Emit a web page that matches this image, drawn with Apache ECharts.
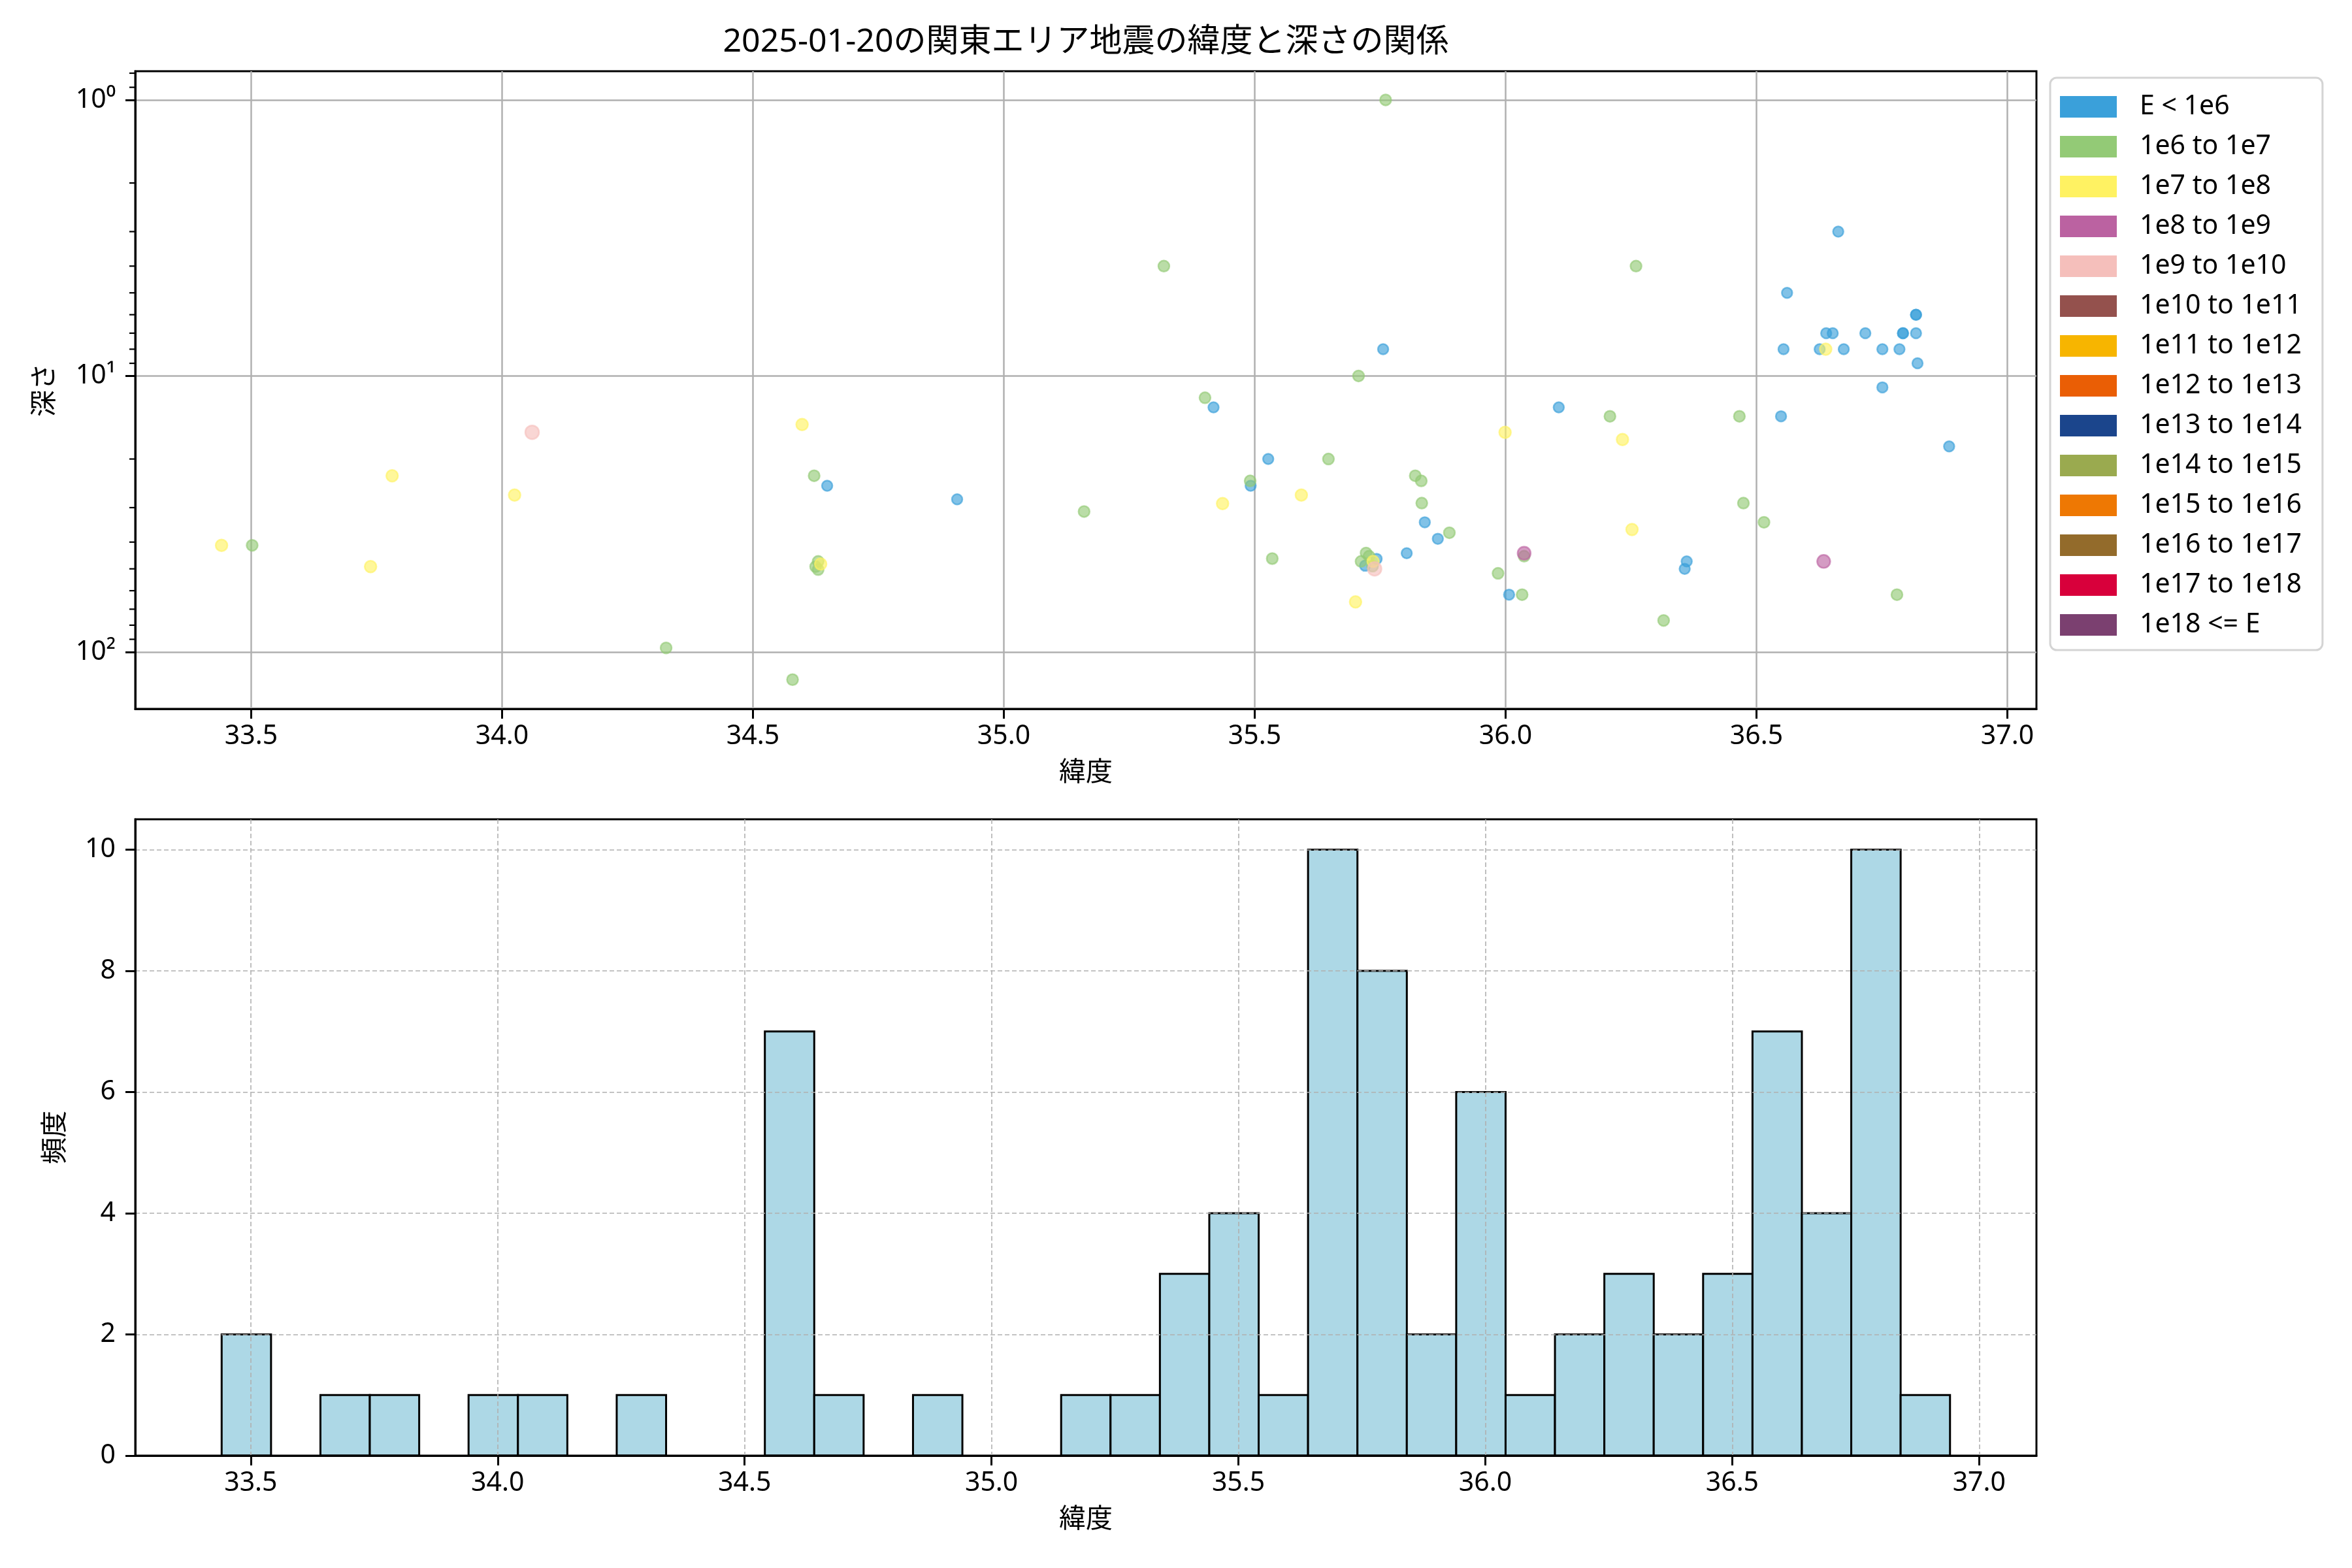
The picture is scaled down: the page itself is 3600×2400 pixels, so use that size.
<!DOCTYPE html>
<html><head><meta charset="utf-8">
<script src="https://cdn.jsdelivr.net/npm/echarts@6/dist/echarts.min.js"></script>
<style>html,body{margin:0;padding:0;background:#fff}#c{width:3600px;height:2400px}</style>
</head><body><div id="c"></div>
<script>
const TITLE = '2025-01-20の関東エリア地震の緯度と深さの関係';
const X_LABEL = '緯度';
const Y_LABEL_TOP = '深さ';
const Y_LABEL_BOTTOM = '頻度';

const energyClasses = ['E < 1e6','1e6 to 1e7','1e7 to 1e8','1e8 to 1e9','1e9 to 1e10','1e10 to 1e11','1e11 to 1e12','1e12 to 1e13','1e13 to 1e14','1e14 to 1e15','1e15 to 1e16','1e16 to 1e17','1e17 to 1e18','1e18 <= E'];
const classColors = ['#3AA0DA','#93CA76','#FFF262','#BB62A1','#F5BFBB','#94514D','#F7B500','#EA5E05','#1B458C','#9AAA4F','#EE7803','#936B2B','#D8003B','#7B4070'];

// [latitude, depth] per energy class
const quakesBelow1e6 = [
  [34.648,25.0],[34.907,28.0],[35.418,13.0],[35.492,25.0],[35.527,20.0],[35.720,48.7],
  [35.743,46.0],[35.756,8.0],[35.803,43.9],[35.839,33.9],[35.865,38.9],[36.007,62.0],
  [36.106,13.0],[36.361,47.0],[36.357,50.0],[36.549,14.0],[36.554,8.0],[36.561,5.0],
  [36.663,3.0],[36.626,8.0],[36.639,7.0],[36.652,7.0],[36.674,8.0],[36.717,7.0],
  [36.751,8.0],[36.751,11.0],[36.785,8.0],[36.792,7.0],[36.792,7.0],[36.818,6.0],
  [36.818,6.0],[36.818,7.0],[36.821,9.0],[36.884,18.0]
];
const quakes1e6to1e7 = [
  [33.502,41.1],[34.327,96.7],[34.579,126],[34.622,23.0],[34.630,47.0],[34.625,49.1],
  [34.630,50.3],[35.160,31.0],[35.319,4.0],[35.401,12.0],[35.491,24.0],[35.535,45.9],
  [35.647,20.0],[35.707,10.0],[35.761,1.0],[35.722,43.8],[35.712,47.0],[35.735,48.9],
  [35.728,45.0],[35.820,23.0],[35.832,24.0],[35.833,28.9],[35.888,37.0],[35.985,51.9],
  [36.033,62.0],[36.037,45.0],[36.208,14.0],[36.260,4.0],[36.315,76.9],[36.466,14.0],
  [36.474,28.9],[36.515,33.9],[36.780,62.0]
];
const quakes1e7to1e8 = [
  [33.441,41.1],[33.738,49.1],[33.781,23.0],[34.025,27.0],[34.598,15.0],[34.635,48.0],
  [35.436,29.0],[35.593,27.0],[35.701,65.9],[35.736,47.0],[35.999,16.0],[36.233,17.0],
  [36.252,36.0],[36.638,8.0]
];
const quakes1e8to1e9 = [[36.037,43.9],[36.634,47.0]];
const quakes1e9to1e10 = [[34.060,16.0],[35.739,50.0]];
const classPoints = [quakesBelow1e6, quakes1e6to1e7, quakes1e7to1e8, quakes1e8to1e9, quakes1e9to1e10, [], [], [], [], [], [], [], [], []];

// histogram (latitude bins, width 0.1)
const binEdges = [33.441,33.541,33.641,33.741,33.841,33.941,34.041,34.141,34.241,34.341,34.441,34.541,
  34.641,34.741,34.841,34.941,35.041,35.141,35.241,35.341,35.441,35.541,35.641,35.741,35.841,35.941,
  36.041,36.141,36.241,36.341,36.441,36.541,36.641,36.741,36.841,36.941];
const binCounts = [2,0,1,1,0,1,1,0,1,0,0,7,1,0,1,0,0,1,1,3,4,1,10,8,2,6,1,2,3,2,3,7,4,10,1];

const latTicks = [33.5,34.0,34.5,35.0,35.5,36.0,36.5,37.0];
const depthTicks = [1,10,100];
const depthMinorTicks = [0.8,0.9,2,3,4,5,6,7,8,9,20,30,40,50,60,70,80,90];
const countTicks = [0,2,4,6,8,10];

// axis ranges
const TOP_X = [33.269, 37.058];
const TOP_Y = [0.787, 160.8];
const BOT_X = [33.266, 37.116];
const BOT_Y = [0, 10.5];

const FONT = "'Noto Sans', 'Noto Sans CJK JP', sans-serif";
const FS = 41;
const classSizes = [16,17,18,20,21,21,21,21,21,21,21,21,21,21];

function rgba(hex, a){
  const n = parseInt(hex.slice(1),16);
  return `rgba(${(n>>16)&255},${(n>>8)&255},${n&255},${a})`;
}
const sup = {'0':'⁰','1':'¹','2':'²','3':'³'};

const chart = echarts.init(document.getElementById('c'), null, {renderer:'canvas'});

const axisCommon = {
  axisLine:{show:true, onZero:false, lineStyle:{color:'#000', width:3}},
  axisTick:{show:true, inside:false, length:15, lineStyle:{color:'#000', width:3}},
  nameTextStyle:{fontFamily:FONT, fontSize:FS, color:'#000'},
};

const series = energyClasses.map((name,i)=>({
  name, type:'scatter', xAxisIndex:0, yAxisIndex:0,
  symbol:'circle', symbolSize:classSizes[i],
  itemStyle:{color:rgba(classColors[i],0.8), borderColor:rgba(classColors[i],0.8), borderWidth:2.5},
  data: classPoints[i]
}));

series.push({
  type:'custom', name:'minorTicks', xAxisIndex:0, yAxisIndex:0, silent:true,
  data: depthMinorTicks.map(v=>[TOP_X[0], v]),
  renderItem(params, api){
    const p = api.coord([api.value(0), api.value(1)]);
    return {type:'line', shape:{x1:p[0]-9, y1:p[1], x2:p[0], y2:p[1]}, style:{stroke:'#000', lineWidth:2.2}};
  }
});

series.push({
  type:'custom', name:'hist', xAxisIndex:1, yAxisIndex:1, z:-1, silent:true,
  data: binCounts.map((c,i)=>[binEdges[i], binEdges[i+1], c]),
  encode:{x:[0,1], y:2},
  renderItem(params, api){
    const c = api.value(2);
    if (!c) return null;
    const a = api.coord([api.value(0), c]);
    const b = api.coord([api.value(1), 0]);
    return {type:'rect', shape:{x:a[0], y:a[1], width:b[0]-a[0], height:b[1]-a[1]},
      style:{fill:'#ADD8E6', stroke:'#000', lineWidth:3}};
  }
});

const option = {
  animation:false,
  backgroundColor:'#fff',
  title:{text:TITLE, left:1662, top:40, textAlign:'center', padding:0,
    textStyle:{fontFamily:FONT, fontSize:50, fontWeight:'normal', color:'#000'}},
  legend:{
    orient:'vertical', left:3138, top:119, padding:[24,32,18,15],
    icon:'rect', itemWidth:87, itemHeight:33, itemGap:20, selectedMode:false,
    borderColor:'#d4d4d4', borderWidth:3, borderRadius:10, backgroundColor:'#fff',
    textStyle:{fontFamily:FONT, fontSize:FS, color:'#000', padding:[0,0,0,30]},
    itemStyle:{borderWidth:0},
    data: energyClasses.map((n,i)=>({name:n, itemStyle:{color:classColors[i], borderWidth:0, opacity:1}}))
  },
  grid:[
    {left:207, top:109, width:2910, height:976, show:true, borderColor:'#000', borderWidth:3, backgroundColor:'transparent'},
    {left:207, top:1254, width:2910, height:974, show:true, borderColor:'#000', borderWidth:3, backgroundColor:'transparent'}
  ],
  xAxis:[
    Object.assign({}, axisCommon, {
      type:'value', gridIndex:0, min:TOP_X[0], max:TOP_X[1], minInterval:0.5, maxInterval:0.5,
      name:X_LABEL, nameLocation:'middle', nameGap:78,
      axisTick:Object.assign({}, axisCommon.axisTick, {customValues:latTicks}),
      axisLabel:{customValues:latTicks, margin:22, fontFamily:FONT, fontSize:FS, color:'#000', formatter:v=>v.toFixed(1)},
      splitLine:{show:true, lineStyle:{color:'#b0b0b0', width:2.5, type:'solid'}}
    }),
    Object.assign({}, axisCommon, {
      type:'value', gridIndex:1, min:BOT_X[0], max:BOT_X[1], minInterval:0.5, maxInterval:0.5,
      name:X_LABEL, nameLocation:'middle', nameGap:78,
      axisTick:Object.assign({}, axisCommon.axisTick, {customValues:latTicks}),
      axisLabel:{customValues:latTicks, margin:22, fontFamily:FONT, fontSize:FS, color:'#000', formatter:v=>v.toFixed(1)},
      splitLine:{show:true, lineStyle:{color:'#b0b0b0', width:1.6, type:[7,4]}}
    })
  ],
  yAxis:[
    Object.assign({}, axisCommon, {
      type:'log', logBase:10, gridIndex:0, min:TOP_Y[0], max:TOP_Y[1], inverse:true,
      name:Y_LABEL_TOP, nameLocation:'middle', nameGap:117, nameRotate:90,
      axisTick:Object.assign({}, axisCommon.axisTick, {customValues:depthTicks}),
      axisLabel:{customValues:depthTicks, margin:30, fontFamily:FONT, fontSize:FS, color:'#000',
        formatter:v=>{const e=Math.log10(v); const r=Math.round(e); return Math.abs(e-r)<1e-6 ? '10'+(sup[String(r)]||r) : '';}},
      splitLine:{show:true, lineStyle:{color:'#b0b0b0', width:2.5, type:'solid'}}
    }),
    Object.assign({}, axisCommon, {
      type:'value', gridIndex:1, min:BOT_Y[0], max:BOT_Y[1], interval:2,
      name:Y_LABEL_BOTTOM, nameLocation:'middle', nameGap:101, nameRotate:90,
      axisTick:Object.assign({}, axisCommon.axisTick, {customValues:countTicks}),
      axisLabel:{customValues:countTicks, margin:30, fontFamily:FONT, fontSize:FS, color:'#000'},
      splitLine:{show:true, lineStyle:{color:'#b0b0b0', width:1.6, type:[7,4]}}
    })
  ],
  series
};
chart.setOption(option);
</script>
</body></html>
